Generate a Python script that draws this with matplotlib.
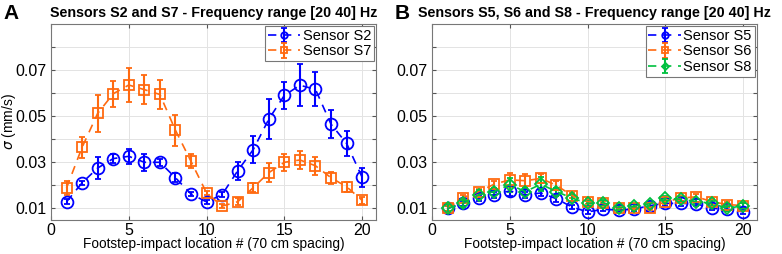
import matplotlib
matplotlib.use("Agg")
import matplotlib.pyplot as plt
import numpy as np

plt.rcParams['font.family'] = ['Liberation Sans', 'DejaVu Sans']

x = list(range(1, 21))

# Panel A
s2 = [0.0129, 0.0211, 0.0275, 0.0316, 0.0326, 0.0300, 0.0300, 0.0233, 0.0163, 0.0128,
      0.0160, 0.0263, 0.0355, 0.0487, 0.0590, 0.0634, 0.0616, 0.0465, 0.0382, 0.0235]
s2_err = [0.001, 0.001, 0.0047, 0.002, 0.0033, 0.0037, 0.0015, 0.002, 0.001, 0.001,
          0.001, 0.004, 0.006, 0.0086, 0.006, 0.009, 0.0074, 0.006, 0.0053, 0.004]
s7 = [0.0189, 0.0365, 0.0512, 0.0597, 0.0635, 0.0615, 0.0594, 0.0439, 0.0304, 0.0167,
      0.0110, 0.0129, 0.0190, 0.0255, 0.0300, 0.0310, 0.0285, 0.0233, 0.0194, 0.0135]
s7_err = [0.003, 0.0046, 0.008, 0.0057, 0.0074, 0.0063, 0.0062, 0.0068, 0.003, 0.001,
          0.001, 0.0015, 0.002, 0.004, 0.0038, 0.0038, 0.004, 0.0025, 0.0022, 0.0015]

# Panel B
s5 = [0.0100, 0.0122, 0.0144, 0.0159, 0.0176, 0.0159, 0.0167, 0.0142, 0.0106, 0.0085,
      0.0096, 0.0093, 0.0097, 0.0112, 0.0122, 0.0122, 0.0120, 0.0100, 0.0097, 0.0085]
s5_err = [0.001, 0.001, 0.0012, 0.0012, 0.002, 0.0012, 0.0015, 0.0012, 0.001, 0.0008,
          0.0008, 0.0008, 0.0008, 0.001, 0.001, 0.001, 0.001, 0.0008, 0.0008, 0.0008]
s6 = [0.0100, 0.0147, 0.0173, 0.0205, 0.0224, 0.0220, 0.0230, 0.0200, 0.0156, 0.0129,
      0.0122, 0.0100, 0.0100, 0.0103, 0.0129, 0.0144, 0.0151, 0.0129, 0.0117, 0.0112]
s6_err = [0.001, 0.0012, 0.0012, 0.0015, 0.003, 0.003, 0.002, 0.002, 0.0012, 0.001,
          0.001, 0.0008, 0.0008, 0.0008, 0.001, 0.001, 0.001, 0.001, 0.001, 0.001]
s8 = [0.0100, 0.0122, 0.0159, 0.0173, 0.0203, 0.0173, 0.0205, 0.0173, 0.0145, 0.0122,
      0.0125, 0.0103, 0.0110, 0.0120, 0.0144, 0.0140, 0.0130, 0.0122, 0.0100, 0.0112]
s8_err = [0.002, 0.0015, 0.002, 0.0015, 0.003, 0.0015, 0.003, 0.0015, 0.0012, 0.001,
          0.001, 0.001, 0.001, 0.001, 0.001, 0.001, 0.001, 0.001, 0.0012, 0.001]

BLUE = '#0000FF'
ORANGE = '#FF6A10'
GREEN = '#00C040'

fig = plt.figure(figsize=(7.82, 2.54), dpi=100)
axA = fig.add_axes([0.0652, 0.134, 0.4158, 0.772])
axB = fig.add_axes([0.5525, 0.134, 0.4155, 0.772])

def style(ax, title):
    ax.set_xlim(0, 20.9)
    ax.set_ylim(0.005, 0.09)
    ax.set_xticks([0, 5, 10, 15, 20])
    ax.set_yticks(np.arange(0.01, 0.0801, 0.01))
    ax.set_yticklabels(['0.01', '', '0.03', '', '0.05', '', '0.07', ''])
    ax.grid(True, color='#e3e3e3', linewidth=0.7)
    ax.set_axisbelow(True)
    ax.tick_params(direction='in', length=3, labelsize=11.5, color='#555555', pad=3,
                   right=True, top=True)
    ax.tick_params(axis='x', pad=2)
    for sp in ax.spines.values():
        sp.set_color('#777777')
        sp.set_linewidth(0.8)
    ax.set_xlabel('Footstep-impact location # (70 cm spacing)', fontsize=9.8, labelpad=-0.5)
    ax.set_title(title, fontsize=10.3, fontweight='bold', pad=5)

def eb(ax, y, e, color, marker, label, ms=8.5):
    ax.errorbar(x, y, yerr=e, color=color, marker=marker, mfc='none', mec=color,
                ms=ms, mew=1.3, linestyle=(0, (5, 4)), linewidth=1.2,
                elinewidth=1.5, capsize=2.5, capthick=1.3, label=label)

eb(axA, s2, s2_err, BLUE, 'o', 'Sensor S2')
eb(axA, s7, s7_err, ORANGE, 's', 'Sensor S7', ms=7)
style(axA, 'Sensors S2 and S7 - Frequency range [20 40] Hz')
axA.set_ylabel(r'$\sigma$ (mm/s)', fontsize=10)
axA.yaxis.set_label_coords(-0.1, 0.5)

eb(axB, s5, s5_err, BLUE, 'o', 'Sensor S5')
eb(axB, s6, s6_err, ORANGE, 's', 'Sensor S6', ms=7)
eb(axB, s8, s8_err, GREEN, 'D', 'Sensor S8', ms=6.5)
style(axB, 'Sensors S5, S6 and S8 - Frequency range [20 40] Hz')

for ax in (axA, axB):
    leg = ax.legend(loc='upper right', fontsize=10.5, markerscale=0.55,
                    handlelength=2.2, handletextpad=0.2, borderpad=0.2,
                    labelspacing=0.1, borderaxespad=0.15, fancybox=False,
                    framealpha=1)
    leg.get_frame().set_edgecolor('#777777')
    leg.get_frame().set_linewidth(0.8)

fig.text(0.005, 0.985, 'A', fontsize=15, fontweight='bold', va='top', ha='left')
fig.text(0.505, 0.985, 'B', fontsize=15, fontweight='bold', va='top', ha='left')

fig.savefig('out.png', dpi=100)
